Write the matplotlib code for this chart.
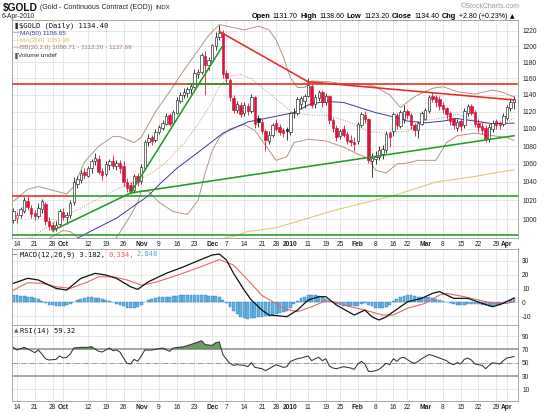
import numpy as np
import pandas as pd
import matplotlib
matplotlib.use("Agg")
import matplotlib.pyplot as plt
from matplotlib.ticker import FixedLocator, NullLocator, FuncFormatter

plt.rcParams["font.family"] = ["Liberation Sans", "DejaVu Sans"]
W, H = 550, 413

# ---------------- data ----------------
holidays = ["2009-11-26", "2009-12-25", "2010-01-01", "2010-01-18", "2010-02-15", "2010-04-02"]
dates = pd.bdate_range("2009-09-11", "2010-04-06")
dates = dates[~dates.isin(pd.to_datetime(holidays))]
day_keys = list(dates.strftime("%m-%d"))

open_ = [999,
         1001, 1004, 1009, 1019, 1012, 1006, 1003, 1011, 1016, 998,
         994, 991, 995, 1007, 1002, 1004, 1018, 1038, 1042, 1051,
         1047, 1055, 1063, 1065, 1052, 1049, 1059, 1063, 1058, 1061,
         1057, 1040, 1036, 1031, 1046, 1041, 1056, 1085, 1090, 1087,
         1096, 1101, 1106, 1116, 1107, 1119, 1133, 1140, 1142, 1147,
         1150, 1166, 1168, 1188, 1177, 1182, 1201, 1212, 1217,
         1166, 1158, 1136, 1122, 1128, 1118, 1127, 1121, 1137, 1112,
         1108, 1097, 1086, 1093, 1107, 1102, 1098, 1099,
         1096, 1118, 1119, 1129, 1133, 1139, 1151, 1129, 1136, 1143,
         1131, 1138, 1110, 1101, 1092, 1099, 1094, 1087, 1085,
         1086, 1105, 1116, 1111, 1063, 1065, 1068, 1071, 1076, 1095,
         1098, 1116, 1103, 1111, 1120, 1116, 1104, 1099, 1106,
         1112, 1121, 1139, 1137, 1135, 1128, 1124, 1118, 1112, 1101,
         1109, 1104, 1119, 1127, 1119, 1107, 1103, 1101, 1088, 1100,
         1109, 1106, 1106, 1113, 1124, 1131.7]
high = [1012,
        1008, 1013, 1024, 1025, 1015, 1010, 1017, 1022, 1018, 1002,
        997, 998, 1011, 1012, 1008, 1020, 1045, 1047, 1053, 1056,
        1058, 1065, 1072, 1070, 1056, 1063, 1066, 1070, 1064, 1064,
        1063, 1044, 1040, 1049, 1050, 1060, 1087, 1094, 1093, 1100,
        1105, 1110, 1118, 1119, 1122, 1138, 1143, 1148, 1150, 1153,
        1172, 1172, 1192, 1194, 1187, 1203, 1218, 1228, 1221,
        1170, 1161, 1140, 1133, 1131, 1131, 1130, 1141, 1139, 1116,
        1112, 1100, 1097, 1107, 1112, 1106, 1101, 1102,
        1120, 1124, 1138, 1139, 1141, 1161, 1154, 1141, 1146, 1146,
        1142, 1140, 1113, 1104, 1100, 1104, 1097, 1093, 1090,
        1108, 1120, 1121, 1113, 1072, 1074, 1080, 1081, 1097, 1097,
        1120, 1119, 1122, 1128, 1123, 1118, 1107, 1109, 1121,
        1124, 1140, 1144, 1140, 1139, 1131, 1126, 1121, 1114, 1112,
        1112, 1124, 1129, 1129, 1122, 1111, 1108, 1104, 1106, 1110,
        1112, 1109, 1118, 1128, 1136, 1138.6]
low = [996,
       996, 1001, 1006, 1010, 1001, 999, 1001, 1006, 994, 989,
       987, 988, 992, 999, 995, 1001, 1015, 1033, 1039, 1043,
       1045, 1050, 1059, 1049, 1042, 1047, 1053, 1054, 1053, 1050,
       1036, 1029, 1027, 1028, 1036, 1038, 1053, 1080, 1081, 1085,
       1094, 1099, 1104, 1103, 1104, 1117, 1130, 1136, 1137, 1141,
       1148, 1160, 1165, 1140, 1170, 1180, 1196, 1208, 1160,
       1155, 1133, 1118, 1118, 1114, 1115, 1116, 1119, 1101, 1102,
       1094, 1075, 1082, 1090, 1097, 1093, 1091, 1087,
       1093, 1113, 1116, 1123, 1125, 1137, 1125, 1125, 1133, 1126,
       1128, 1106, 1096, 1086, 1088, 1090, 1083, 1080, 1074,
       1083, 1102, 1107, 1061, 1045, 1060, 1064, 1066, 1072, 1079,
       1092, 1100, 1101, 1107, 1111, 1100, 1092, 1089, 1104,
       1110, 1118, 1131, 1126, 1122, 1119, 1112, 1104, 1100, 1098,
       1098, 1101, 1115, 1116, 1102, 1096, 1094, 1085, 1085, 1096,
       1100, 1100, 1103, 1110, 1121, 1123.2]
close = [1008,
         1004, 1010, 1020, 1013, 1005, 1003, 1012, 1019, 998, 993,
         990, 994, 1008, 1002, 1004, 1017, 1040, 1043, 1050, 1048,
         1055, 1063, 1066, 1051, 1048, 1060, 1063, 1058, 1061, 1055,
         1040, 1033, 1030, 1046, 1040, 1056, 1084, 1089, 1086, 1096,
         1102, 1107, 1115, 1106, 1119, 1134, 1140, 1143, 1147, 1150,
         1166, 1168, 1189, 1177, 1182, 1201, 1212, 1217, 1165,
         1160, 1137, 1122, 1129, 1117, 1128, 1121, 1137, 1106, 1108,
         1097, 1087, 1093, 1104, 1100, 1096, 1095, 1097,
         1118, 1119, 1135, 1136, 1138, 1152, 1128, 1137, 1143, 1131,
         1139, 1110, 1101, 1090, 1097, 1093, 1086, 1085, 1082,
         1105, 1117, 1111, 1064, 1066, 1068, 1075, 1077, 1094, 1090,
         1117, 1104, 1119, 1121, 1116, 1104, 1099, 1106, 1118,
         1122, 1137, 1135, 1132, 1127, 1123, 1117, 1109, 1104, 1108,
         1103, 1121, 1126, 1119, 1106, 1102, 1099, 1088, 1102, 1107,
         1105, 1104, 1115, 1125, 1131.6, 1134.4]

ma50_days = ["10-07", "10-09", "10-22", "11-04", "11-09", "11-16", "11-24", "12-04", "12-15", "12-23",
             "01-05", "01-12", "01-20", "01-26", "01-29", "02-08", "02-16", "02-22", "03-01", "03-08",
             "03-12", "03-19", "03-26", "04-06"]
ma50_vals = [980, 984, 1001, 1025, 1037, 1055, 1073, 1095, 1108, 1113,
             1119, 1130, 1132, 1131, 1127, 1119, 1114, 1109, 1107, 1109,
             1112, 1109, 1106, 1106.65]

ma200_days = ["12-04", "12-09", "12-15", "12-28", "01-22", "02-16", "03-04", "03-19", "03-25", "04-06"]
ma200_vals = [980, 982, 987, 991, 1010, 1025, 1040, 1046, 1049, 1053.38]

bbu_days = ["09-11", "09-17", "09-22", "09-29", "10-02", "10-06", "10-09", "10-15", "10-21", "10-23",
            "10-29", "11-02", "11-06", "11-12", "11-18", "11-24", "11-30", "12-03", "12-08", "12-14",
            "12-18", "12-23", "12-28", "12-30", "01-04", "01-06", "01-08", "01-12", "01-20", "01-26",
            "02-03", "02-08", "02-12", "02-18", "02-24", "03-03", "03-08", "03-12", "03-19", "03-26",
            "03-31", "04-06"]
bbu_vals = [1019, 1032, 1035, 1030, 1027, 1035, 1062, 1080, 1091, 1091,
            1084, 1090, 1120, 1144, 1170, 1195, 1214, 1228, 1225, 1221,
            1226, 1221, 1208, 1187, 1161, 1149, 1149, 1157, 1156, 1153,
            1153, 1150, 1140, 1125, 1138, 1148, 1150, 1144, 1141, 1146,
            1143, 1137.69]

bbl_days = ["09-24", "09-29", "10-01", "10-05", "10-07", "10-09", "10-21", "10-26", "10-28", "10-30",
            "11-02", "11-04", "11-09", "11-13", "11-19", "11-24", "11-27", "12-01", "12-03", "12-08",
            "12-14", "12-17", "12-22", "12-28", "12-31", "01-05", "01-11", "01-19", "01-26", "01-29",
            "02-04", "02-08", "02-11", "02-17", "02-22", "02-25", "03-04", "03-09", "03-12", "03-19",
            "03-26", "04-01", "04-06"]
bbl_vals = [978, 984, 988, 987, 981, 975, 975, 992, 1004, 1018,
            1030, 1030, 1018, 1008, 1005, 1020, 1050, 1075, 1090, 1100,
            1105, 1098, 1081, 1064, 1068, 1084, 1088, 1086, 1079, 1073,
            1066, 1053, 1050, 1060, 1061, 1064, 1064, 1084, 1092, 1095,
            1092, 1090, 1086.71]

bbm_days = ["09-17", "09-21", "09-28", "10-06", "10-14", "10-22", "10-29", "11-05", "11-11", "11-18",
            "11-24", "11-30", "12-03", "12-08", "12-11", "12-16", "12-21", "12-28", "01-05", "01-12",
            "01-19", "01-27", "02-04", "02-11", "02-22", "02-26", "03-05", "03-12", "03-18", "03-25",
            "04-01", "04-06"]
bbm_vals = [979, 983, 996, 1008, 1020, 1032, 1040, 1050, 1062, 1083,
            1105, 1125, 1150, 1163, 1165, 1160, 1149, 1135, 1118, 1116,
            1116, 1109, 1097, 1095, 1097, 1109, 1112, 1117, 1111, 1105,
            1108, 1112.2]

# trendlines: (from day, price, to day, price, colour)
trend_lines = [("09-28", 988, "10-28", 1028, "green"),
               ("10-28", 1028, "04-06", 1092, "green"),
               ("10-28", 1028, "12-04", 1201, "green"),
               ("12-03", 1219, "01-11", 1156, "red"),
               ("01-11", 1156, "04-06", 1134, "red")]
# horizontal levels: (price, from day, to day, colour); None = panel edge
levels = [(1153, None, None, "red"),
          (1153, "11-19", "12-08", "green"),
          (1025, None, "10-05", "red"),
          (1025, "10-05", None, "green"),
          (983, None, None, "green")]

macd_days = ["09-11", "09-17", "09-22", "09-29", "10-02", "10-08", "10-14", "10-19", "10-22", "10-28",
             "10-30", "11-04", "11-11", "11-18", "11-25", "12-01", "12-03", "12-07", "12-09", "12-14",
             "12-16", "12-21", "12-23", "12-28", "12-31", "01-06", "01-11", "01-14", "01-19", "01-22",
             "01-29", "02-03", "02-05", "02-09", "02-11", "02-16", "02-22", "02-26", "03-03", "03-05",
             "03-11", "03-17", "03-23", "03-26", "03-31", "04-06"]
macd_vals = [13.8, 17.4, 16.2, 10.1, 8.9, 17.4, 21.0, 19.8, 17.4, 11.3,
             9.4, 14.9, 21.0, 25.8, 31.2, 34.3, 35.0, 30.7, 21.0, 8.9,
             1.7, -5.6, -9.2, -9.6, -10.4, -5.6, 1.7, 4.1, 4.1, -2.0,
             -9.2, -5.6, -10.5, -12.8, -10.5, -6.8, 0.4, 2.9, 6.5, 7.8,
             2.9, 2.9, -0.7, -3.2, -0.7, 3.182]

signal_days = ["09-11", "09-17", "09-23", "09-29", "10-05", "10-12", "10-15", "10-21", "10-27", "11-02",
               "11-06", "11-16", "11-25", "12-03", "12-09", "12-16", "12-21", "12-28", "12-30", "01-06",
               "01-12", "01-19", "01-22", "01-28", "02-03", "02-10", "02-16", "02-22", "03-01", "03-05",
               "03-09", "03-16", "03-22", "03-26", "04-01", "04-06"]
signal_vals = [8.9, 14.2, 13.8, 11.3, 10.1, 14.9, 18.5, 18.5, 16.2, 12.5,
               14.5, 19.5, 26.0, 31.0, 27.0, 13.5, 5.0, -1.0, -4.3, -6.8,
               -3.2, 1.2, 0.0, -3.2, -5.6, -9.2, -9.2, -4.3, -0.7, 5.3,
               6.5, 4.1, 1.7, -0.7, -0.7, 0.334]

hist_vals = [5.0,
             5.0, 4.8, 4.4, 4.0, 3.6, 3.0, 2.2, 0.8, -0.6, -1.6,
             -2.2, -2.6, -2.6, -2.4, -1.8, -1.0, 0.2, 1.4, 2.4, 3.2,
             3.6, 3.6, 3.4, 3.0, 2.4, 1.8, 1.0, 0.0, -1.0, -2.0,
             -3.0, -3.8, -4.2, -4.2, -3.6, -2.2, 0.2, 1.6, 2.6, 3.2,
             3.6, 4.0, 4.2, 4.2, 4.4, 4.8, 5.0, 5.2, 5.2, 5.0,
             5.2, 5.4, 5.6, 5.2, 4.8, 4.8, 4.6, 4.2, 2.0,
             -0.6, -3.4, -6.0, -8.6, -10.6, -11.6, -11.8, -11.4, -11.2, -10.8,
             -10.4, -10.0, -9.6, -9.0, -8.4, -7.8, -7.0, -6.0,
             -3.8, -1.0, 1.2, 2.8, 4.0, 5.0, 5.2, 5.0, 4.4, 3.6,
             2.6, 1.2, 0.0, -1.0, -1.8, -2.4, -2.8, -3.0, -3.0,
             -2.6, -1.4, -0.8, -1.8, -3.0, -4.0, -4.4, -4.2, -3.6, -1.6,
             0.8, 2.6, 4.0, 4.8, 5.2, 5.0, 4.6, 4.2, 4.0,
             3.8, 3.6, 3.2, 2.6, 2.0, 1.2, 0.4, -0.4, -1.2, -1.8,
             -2.0, -1.8, -1.4, -1.0, -1.0, -1.2, -1.6, -2.2, -2.6, -2.6,
             -2.2, -1.6, -0.6, 0.8, 2.0, 2.85]

rsi_days = ["09-11", "09-14", "09-16", "09-18", "09-21", "09-22", "09-23", "09-24", "09-25", "09-29",
            "09-30", "10-01", "10-02", "10-05", "10-06", "10-08", "10-12", "10-13", "10-15", "10-16",
            "10-20", "10-21", "10-22", "10-23", "10-26", "10-27", "10-28", "10-29", "10-30", "11-02",
            "11-03", "11-05", "11-06", "11-10", "11-12", "11-13", "11-18", "11-23", "11-25", "11-27",
            "12-01", "12-02", "12-03", "12-04", "12-07", "12-08", "12-09", "12-10", "12-14", "12-15",
            "12-16", "12-17", "12-21", "12-22", "12-24", "12-28", "12-30", "12-31", "01-04", "01-06",
            "01-07", "01-11", "01-12", "01-13", "01-14", "01-15", "01-19", "01-20", "01-21", "01-22",
            "01-26", "01-28", "01-29", "02-01", "02-02", "02-03", "02-04", "02-05", "02-08", "02-09",
            "02-11", "02-12", "02-16", "02-17", "02-18", "02-19", "02-23", "02-24", "02-25", "02-26",
            "03-02", "03-03", "03-05", "03-09", "03-10", "03-11", "03-12", "03-15", "03-16", "03-17",
            "03-18", "03-19", "03-23", "03-24", "03-25", "03-26", "03-29", "03-30", "03-31", "04-01",
            "04-05", "04-06"]
rsi_vals = [73, 69, 73, 68, 65, 69, 63, 56, 54, 55,
            60, 57, 58, 63, 72, 73, 73, 74, 67, 66,
            72, 68, 69, 66, 57, 49, 48, 55, 52, 60,
            69, 69, 70, 72, 67, 72, 74, 79, 83, 77,
            76, 80, 81, 62, 55, 49, 46, 47, 46, 44,
            50, 43, 41, 38, 44, 47, 43, 44, 52, 56,
            57, 60, 53, 56, 58, 53, 56, 45, 42, 41,
            44, 42, 40, 48, 52, 48, 37, 37, 38, 40,
            49, 47, 56, 52, 57, 58, 51, 49, 52, 56,
            62, 61, 57, 53, 49, 47, 50, 48, 55, 57,
            54, 48, 46, 41, 46, 50, 49, 48, 53, 57,
            58, 59.32]

tick_days = ["09-14", "09-21", "09-28", "10-01", "10-12", "10-19", "10-26", "11-02", "11-09", "11-16",
             "11-23", "12-01", "12-07", "12-14", "12-21", "12-28", "01-04", "01-11", "01-19", "01-25",
             "02-01", "02-08", "02-16", "02-22", "03-01", "03-08", "03-15", "03-22", "03-29", "04-01"]
tick_labels = ["14", "21", "28", "Oct", "12", "19", "26", "Nov", "9", "16",
               "23", "Dec", "7", "14", "21", "28", "2010", "11", "19", "25",
               "Feb", "8", "16", "22", "Mar", "8", "15", "22", "29", "Apr"]
price_ticks = list(range(1000, 1221, 20))
macd_ticks = [-10, 0, 10, 20, 30]
rsi_ticks = [10, 30, 50, 70, 90]

# ---------------- styling ----------------
C_RED = "#d8163c"
C_BLK = "#1e1e1e"
C_TR = {"red": "#e62b22", "green": "#239b2a"}
C_MA50 = "#3b3b98"
C_MA200 = "#e3c878"
C_BB = "#b89480"
C_GRID = "#dedede"


def xs(keys):
    return np.array([day_keys.index(k) for k in keys], dtype=float)


fig = plt.figure(figsize=(5.5, 4.13), dpi=100)
fig.patch.set_facecolor("white")


def rect(top, bottom):
    return [12 / W, 1 - bottom / H, 506 / W, (bottom - top) / H]


ax = fig.add_axes(rect(19.5, 238))
axm = fig.add_axes(rect(248.5, 325))
axr = fig.add_axes(rect(325, 400.5))

XL = (-0.41, 142.13)
tick_x = xs(tick_days)
for a in (ax, axm, axr):
    a.set_xlim(*XL)
    a.xaxis.set_major_locator(FixedLocator(tick_x))
    a.grid(True, which="major", color=C_GRID, lw=0.5)
    a.set_axisbelow(True)
    for sp in a.spines.values():
        sp.set_color("#9a9a9a")
        sp.set_linewidth(0.6)
    a.yaxis.tick_right()
    a.tick_params(axis="both", which="both", length=0, labelsize=4.8,
                  colors="#222222", pad=3.0)

# ---- price panel ----
ax.set_yscale("log")
ax.set_ylim(980.3, 1234.5)
ax.yaxis.set_major_locator(FixedLocator(price_ticks))
ax.yaxis.set_minor_locator(NullLocator())
ax.yaxis.set_major_formatter(FuncFormatter(lambda v, p: f"{v:.0f}"))

ax.plot(xs(bbu_days), bbu_vals, color=C_BB, lw=0.7, zorder=2)
ax.plot(xs(bbl_days), bbl_vals, color=C_BB, lw=0.7, zorder=2)
ax.plot(xs(bbm_days), bbm_vals, color=C_BB, lw=0.7, ls=(0, (1, 1.5)), zorder=2)
ax.plot(xs(ma200_days), ma200_vals, color=C_MA200, lw=0.8, zorder=2)
ax.plot(xs(ma50_days), ma50_vals, color=C_MA50, lw=0.7, zorder=2)

o = np.array(open_, float)
hh = np.array(high, float)
ll = np.array(low, float)
c = np.array(close, float)
x = np.arange(len(c), dtype=float)
prev = np.r_[o[0], c[:-1]]
edge = np.where(c < prev, C_RED, C_BLK)
face = np.where(c < o, edge, "white")
ax.vlines(x, ll, hh, colors=edge, lw=0.6, zorder=3)
ax.bar(x, np.abs(c - o) + 0.3, bottom=np.minimum(o, c), width=0.7,
       color=face, edgecolor=edge, lw=0.45, zorder=4)

for lvl, d0, d1, col in levels:
    x0 = XL[0] if d0 is None else xs([d0])[0]
    x1 = XL[1] if d1 is None else xs([d1])[0]
    ax.plot([x0, x1], [lvl, lvl], color=C_TR[col], lw=1.15, zorder=5,
            solid_capstyle="butt")
for d0, p0, d1, p1, col in trend_lines:
    ax.plot(xs([d0, d1]), [p0, p1], color=C_TR[col], lw=1.15, zorder=5)

ax.tick_params(axis="x", labelbottom=True, pad=2.5)
ax.set_xticklabels(tick_labels)
axr.set_xticklabels(tick_labels)
for a in (ax, axr):
    for lbl, t in zip(a.get_xticklabels(), tick_labels):
        if not t.isdigit() or t == "2010":
            lbl.set_fontweight("bold")

# ---- MACD panel ----
axm.set_ylim(-16.4, 39.0)
axm.yaxis.set_major_locator(FixedLocator(macd_ticks))
axm.yaxis.set_major_formatter(FuncFormatter(lambda v, p: f"{v:.0f}"))
axm.tick_params(axis="x", labelbottom=False)
axm.bar(x, hist_vals, width=0.8, color="#62b3e3", edgecolor="#2c7ab5", lw=0.3, zorder=2)
axm.plot(xs(signal_days), signal_vals, color="#e06a6a", lw=0.8, zorder=3)
axm.plot(xs(macd_days), macd_vals, color="#111111", lw=0.9, zorder=4)

# ---- RSI panel ----
axr.set_ylim(-6.7, 106.5)
axr.yaxis.set_major_locator(FixedLocator(rsi_ticks))
axr.yaxis.set_major_formatter(FuncFormatter(lambda v, p: f"{v:.0f}"))
axr.tick_params(axis="x", pad=2.5)
for lvl in (70, 30):
    axr.axhline(lvl, color="#a6a6a6", lw=1.4, zorder=1)
axr.axhline(50, color="#8c8c8c", lw=0.6, ls="-.", zorder=1)
rx = xs(rsi_days)
rv = np.array(rsi_vals, float)
axr.fill_between(rx, rv, 70, where=rv > 70, interpolate=True,
                 color="#5e8f55", alpha=0.9, lw=0, zorder=2)
axr.plot(rx, rv, color="#333333", lw=0.75, zorder=3)

# ---------------- texts ----------------
renderer = fig.canvas.get_renderer()


def seq(x0, y, pieces, gap=0.0):
    out = []
    xx = x0
    for s, kw in pieces:
        t = fig.text(xx / W, 1 - y / H, s, va="center", ha="left", **kw)
        out.append(t)
        xx += t.get_window_extent(renderer=renderer).width + gap
    return out, xx


B = dict(fontweight="bold")
seq(3, 7.5, [(r"\$GOLD", dict(fontsize=7.4, fontweight="bold", color="#111111")),
             ("(Gold - Continuous Contract (EOD))", dict(fontsize=5.0, color="#222222")),
             ("INDX", dict(fontsize=4.4, color="#222222"))], gap=2.5)
fig.text(2 / W, 1 - 16.5 / H, "6-Apr-2010", fontsize=4.8, va="center", color="#222222")
fig.text(520 / W, 1 - 6.5 / H, "\u00a9StockCharts.com", fontsize=5.0, va="center",
         ha="right", color="#9a9a9a")

hdr = [("Open", dict(fontsize=5.3, **B)), ("1131.70", dict(fontsize=5.0)),
       ("High", dict(fontsize=5.3, **B)), ("1138.60", dict(fontsize=5.0)),
       ("Low", dict(fontsize=5.3, **B)), ("1123.20", dict(fontsize=5.0)),
       ("Close", dict(fontsize=5.3, **B)), ("1134.40", dict(fontsize=5.0)),
       ("Chg", dict(fontsize=5.3, **B)), ("+2.80 (+0.23%)", dict(fontsize=5.0)),
       ("\u25b2", dict(fontsize=4.2, family="DejaVu Sans"))]
texts, end = seq(0, 16.5, hdr, gap=2.6)
shift = 517 - end
for t in texts:
    t.set_x(t.get_position()[0] + shift / W)

MONO = "DejaVu Sans Mono"
seq(13, 25.5, [("\u2590", dict(fontsize=4.5, family="DejaVu Sans", color="#333333")),
               (r"\$GOLD (Daily) 1134.40", dict(fontsize=5.1, family=MONO, color="#111111"))], gap=1.5)
seq(13, 33.0, [("\u2014", dict(fontsize=4.6, color=C_MA50)),
               ("MA(50) 1106.65", dict(fontsize=4.6, color=C_MA50))], gap=0.5)
seq(13, 40.5, [("\u2014", dict(fontsize=4.6, color="#e0c060")),
               ("MA(200) 1053.38", dict(fontsize=4.6, color="#e0c060"))], gap=0.5)
seq(13, 48.0, [("\u2014", dict(fontsize=4.6, color="#a07868")),
               ("BB(20,2.0) 1086.71 - 1112.20 - 1137.69", dict(fontsize=4.6, color="#a07868"))], gap=0.5)
seq(13, 55.5, [("\u2590", dict(fontsize=4.2, family="DejaVu Sans", color="#555555")),
               ("Volume undef", dict(fontsize=4.6, color="#333333"))], gap=1.0)

seq(13, 254.5, [("\u2014", dict(fontsize=5.0, family=MONO, color="#111111")),
                ("MACD(12,26,9) 3.182,", dict(fontsize=5.1, family=MONO, color="#111111")),
                ("0.334,", dict(fontsize=5.1, family=MONO, color="#e05a5a")),
                ("2.848", dict(fontsize=5.1, family=MONO, color="#5aa8d8"))], gap=3.0)
seq(14, 330.5, [("\u25b2", dict(fontsize=4.2, family="DejaVu Sans", color="#4f7f47")),
                ("RSI(14) 59.32", dict(fontsize=5.1, family=MONO, color="#111111"))], gap=1.0)

fig.savefig("out.png", dpi=100, facecolor="white")
